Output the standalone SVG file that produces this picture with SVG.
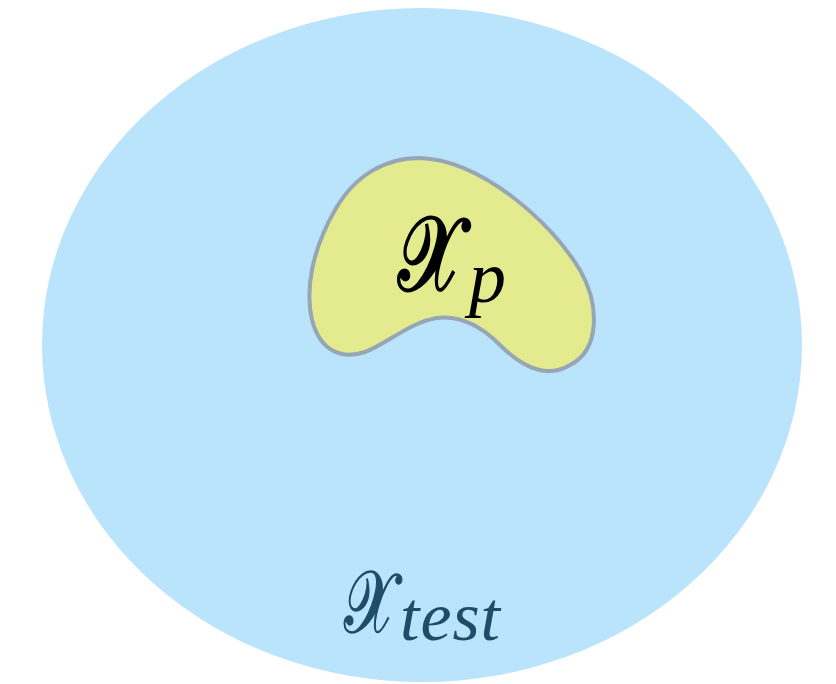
<svg xmlns="http://www.w3.org/2000/svg" width="836" height="684" viewBox="0 0 836 684">
<style>
.lbl{font-family:"DejaVu Serif","Liberation Serif",serif}
.sub{font-family:"Liberation Serif",serif;font-style:italic}
</style>
<rect width="836" height="684" fill="#ffffff"/>
<g id="test">
<ellipse cx="422" cy="345" rx="380" ry="337" fill="#b9e4fc"/>
<text transform="translate(344,632) scale(0.68,1)" class="lbl" font-size="88" fill="#1f4d69" stroke="#1f4d69" stroke-width="1.5">𝒳</text>
<text x="400" y="640" class="sub" font-size="70" textLength="100" lengthAdjust="spacing" fill="#1f4d69">test</text>
</g>
<g id="p">
<path d="M 420 158 C 480 160 550 220 580 270 C 600 305 600 350 570 365 C 545 380 520 365 500 345 C 480 325 460 315 437 318 C 410 322 385 345 365 352 C 340 360 320 350 312 320 C 305 290 312 250 335 210 C 355 175 385 158 420 158 Z" fill="#e4eb8f" stroke="#97a6b5" stroke-width="4"/>
<text transform="translate(398,290) scale(0.71,1)" class="lbl" font-size="105" fill="#000" stroke="#000" stroke-width="3">𝒳</text>
<text x="469" y="302" class="sub" font-size="74" fill="#000">p</text>
</g>
</svg>
